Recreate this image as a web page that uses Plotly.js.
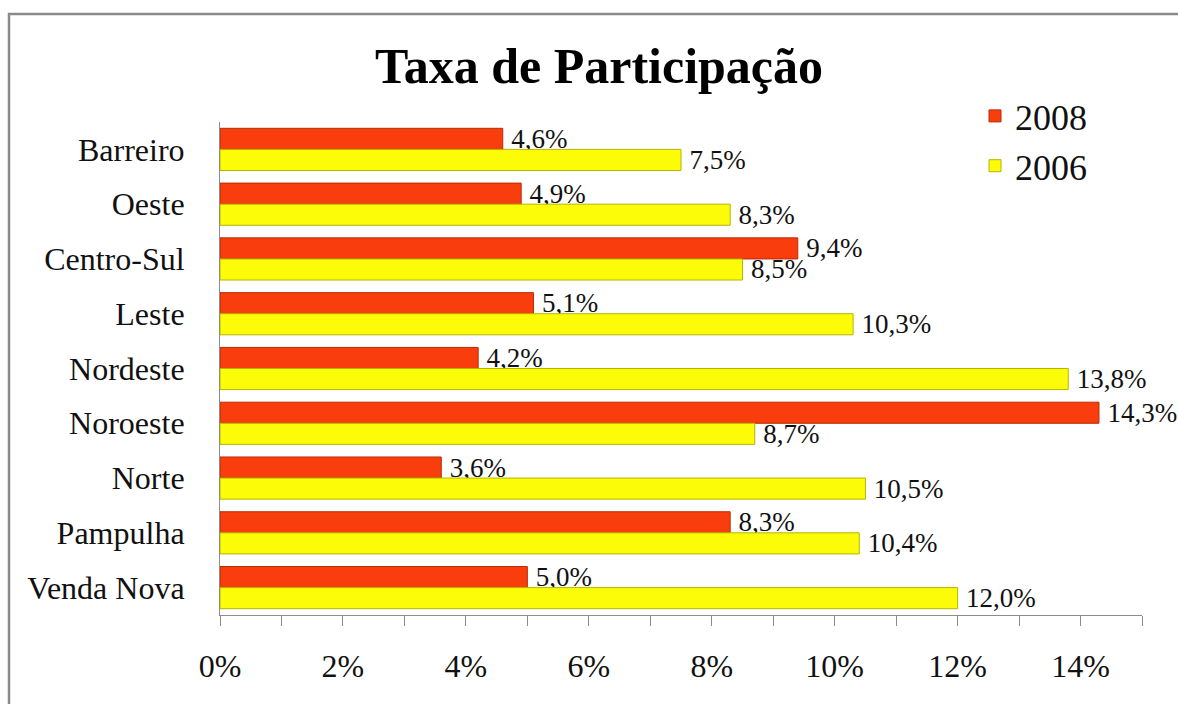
<!DOCTYPE html>
<html>
<head>
<meta charset="utf-8">
<script src="https://cdn.plot.ly/plotly-3.0.1.min.js"></script>
<style>
  html, body { margin: 0; padding: 0; background: #ffffff; }
  #chart { width: 1178px; height: 704px; }
</style>
</head>
<body>
<div id="chart"></div>
<script>
// ---- Data ----
const regions = ["Barreiro", "Oeste", "Centro-Sul", "Leste", "Nordeste", "Noroeste", "Norte", "Pampulha", "Venda Nova"];
const values2008 = [4.6, 4.9, 9.4, 5.1, 4.2, 14.3, 3.6, 8.3, 5.0];
const values2006 = [7.5, 8.3, 8.5, 10.3, 13.8, 8.7, 10.5, 10.4, 12.0];
const seriesNames = ["2008", "2006"];
const xTickVals = [0, 2, 4, 6, 8, 10, 12, 14];

const fmt = v => '\u2009' + v.toFixed(1).replace('.', ',') + '%';

// ---- Layout geometry ----
const W = 1178, H = 704;
const M = { l: 220, r: 36, t: 122, b: 89 };
const plotW = W - M.l - M.r, plotH = H - M.t - M.b;
const px2x = p => (p - M.l) / plotW;
const py2y = p => (H - M.b - p) / plotH;

const serif = '"Liberation Serif", "Times New Roman", serif';

const traces = [
  {
    type: 'bar', orientation: 'h', name: seriesNames[0],
    y: regions, x: values2008,
    text: values2008.map(fmt), textposition: 'outside', constraintext: 'none', cliponaxis: false,
    textfont: { family: serif, size: 27, color: '#111' },
    marker: { color: '#FA3D0C', line: { color: '#B82C05', width: 1 } },
    hoverinfo: 'skip'
  },
  {
    type: 'bar', orientation: 'h', name: seriesNames[1],
    y: regions, x: values2006,
    text: values2006.map(fmt), textposition: 'outside', constraintext: 'none', cliponaxis: false,
    textfont: { family: serif, size: 27, color: '#111' },
    marker: { color: '#FCFC08', line: { color: '#B5B500', width: 1 } },
    hoverinfo: 'skip'
  }
];

const layout = {
  width: W, height: H,
  margin: M,
  paper_bgcolor: '#ffffff', plot_bgcolor: '#ffffff',
  barmode: 'group', bargap: 0.23, bargroupgap: 0,
  showlegend: true,
  title: {
    text: '<b>Taxa de Participação</b>',
    font: { family: serif, size: 50, color: '#000' },
    xref: 'container', yref: 'container',
    x: 599 / W, xanchor: 'center',
    y: 1 - 65 / H, yanchor: 'middle'
  },
  legend: {
    x: px2x(975), y: py2y(86), xanchor: 'left', yanchor: 'top',
    traceorder: 'normal',
    font: { family: serif, size: 36, color: '#111' },
    bgcolor: 'rgba(0,0,0,0)'
  },
  xaxis: {
    range: [0, 15], fixedrange: true,
    tickvals: xTickVals, ticktext: xTickVals.map(v => v + '%'),
    ticks: 'outside', ticklen: 10, tickwidth: 1, tickcolor: '#8c8c8c',
    minor: { dtick: 1, tick0: 0, ticks: 'outside', ticklen: 10, tickwidth: 1, tickcolor: '#8c8c8c' },
    showgrid: false, zeroline: false,
    showline: true, linecolor: '#8c8c8c', linewidth: 1,
    ticklabelstandoff: 13,
    tickfont: { family: serif, size: 32, color: '#111' }
  },
  yaxis: {
    autorange: 'reversed', fixedrange: true,
    showgrid: false, zeroline: false,
    showline: true, linecolor: '#8c8c8c', linewidth: 1,
    ticks: '', ticklabelstandoff: 28,
    tickfont: { family: serif, size: 32, color: '#111' }
  },
  shapes: [
    {
      type: 'rect', xref: 'paper', yref: 'paper',
      x0: px2x(9), x1: px2x(W + 20), y0: py2y(H + 20), y1: py2y(14),
      line: { color: '#8a8a8a', width: 2.5 }, fillcolor: 'rgba(0,0,0,0)', layer: 'below'
    }
  ]
};

Plotly.newPlot('chart', traces, layout, { displayModeBar: false, staticPlot: true });
</script>
</body>
</html>
